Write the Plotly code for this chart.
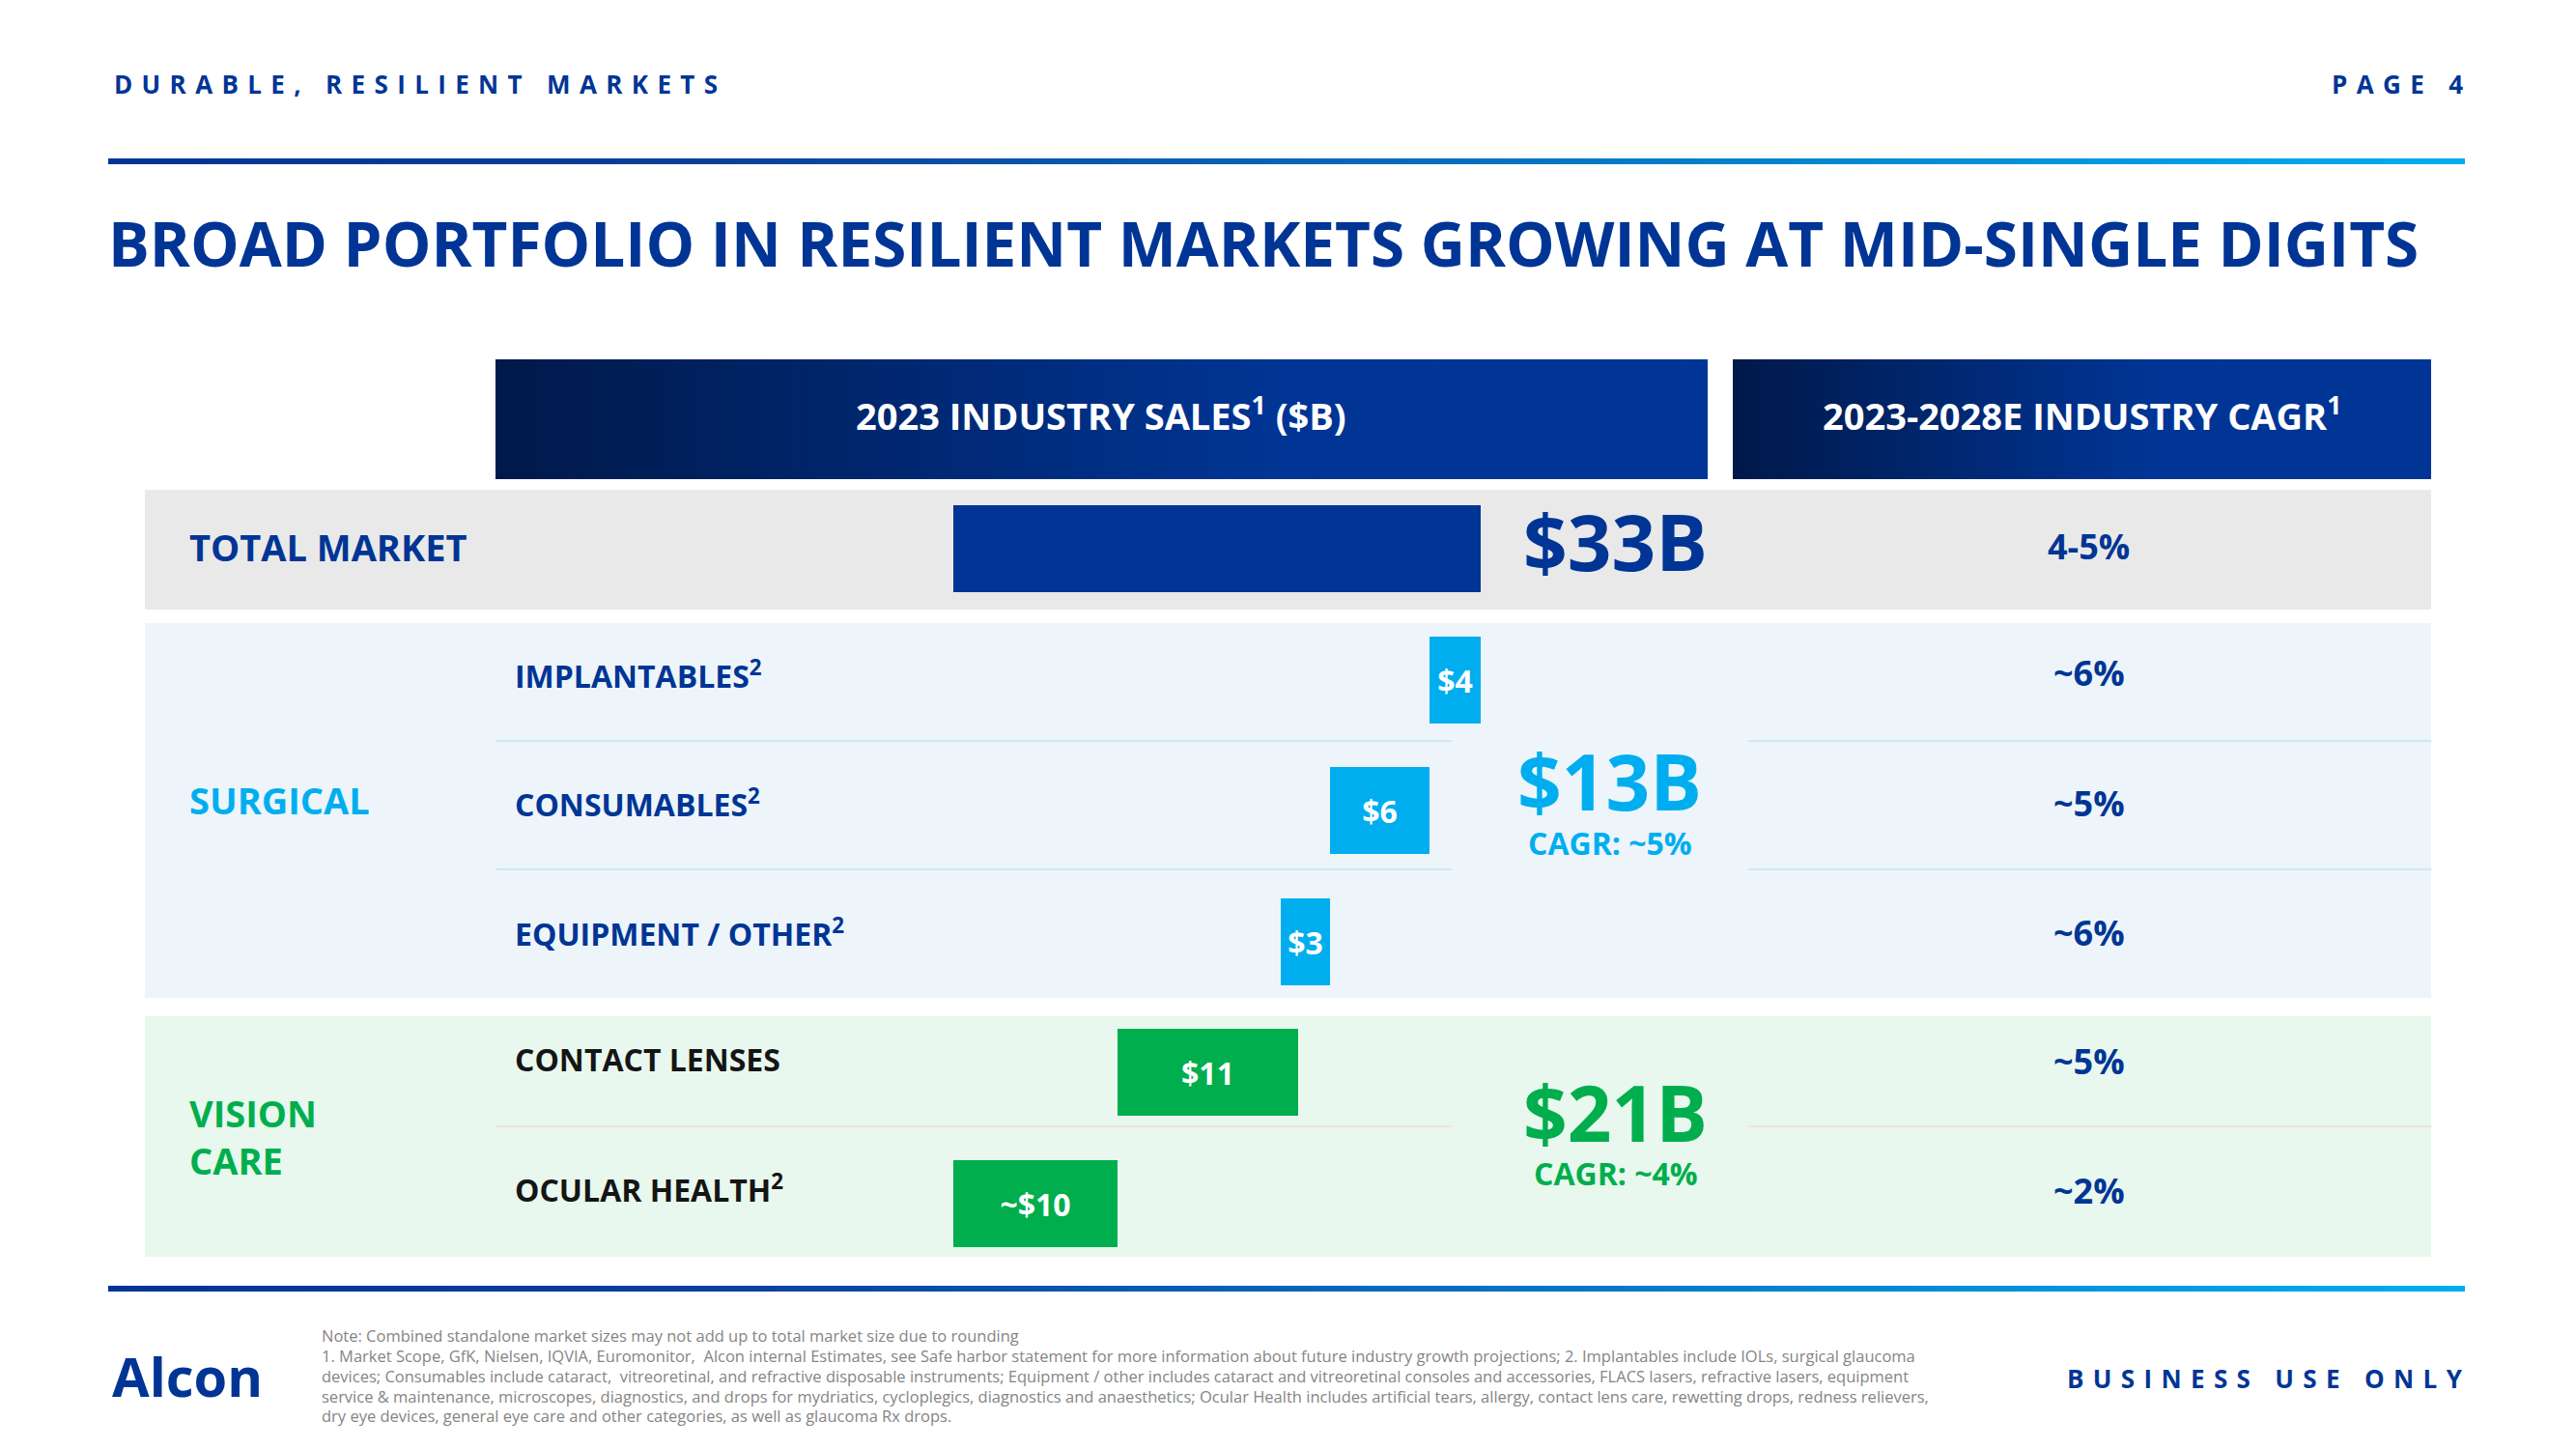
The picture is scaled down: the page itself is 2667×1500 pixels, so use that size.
import plotly.graph_objects as go

W, H = 2667, 1500

# ---------------- data ----------------
categories = ["TOTAL MARKET", "IMPLANTABLES", "CONSUMABLES", "EQUIPMENT / OTHER",
              "CONTACT LENSES", "OCULAR HEALTH"]
row_labels = ["", "IMPLANTABLES<sup>2</sup>", "CONSUMABLES<sup>2</sup>",
              "EQUIPMENT / OTHER<sup>2</sup>", "CONTACT LENSES", "OCULAR HEALTH<sup>2</sup>"]
sales_labels = ["", "$4", "$6", "$3", "$11", "~$10"]
bar_base = [0, 29.8, 23.6, 20.5, 10.3, 0]      # $B, left edge of each drawn bar
bar_len = [33, 3.2, 6.2, 3.1, 11.3, 10.3]       # $B, drawn length of each bar
cagr = ["4-5%", "~6%", "~5%", "~6%", "~5%", "~2%"]
segment_names = ["TOTAL MARKET", "SURGICAL", "VISION<br>CARE"]
segment_totals = ["$33B", "$13B", "$21B"]
segment_cagr = ["", "CAGR: ~5%", "CAGR: ~4%"]
footnotes = [
    "Note: Combined standalone market sizes may not add up to total market size due to rounding",
    "1. Market Scope, GfK, Nielsen, IQVIA, Euromonitor,  Alcon internal Estimates, see Safe harbor statement for more information about future industry growth projections; 2. Implantables include IOLs, surgical glaucoma",
    "devices; Consumables include cataract,  vitreoretinal, and refractive disposable instruments; Equipment / other includes cataract and vitreoretinal consoles and accessories, FLACS lasers, refractive lasers, equipment",
    "service &amp; maintenance, microscopes, diagnostics, and drops for mydriatics, cycloplegics, diagnostics and anaesthetics; Ocular Health includes artificial tears, allergy, contact lens care, rewetting drops, redness relievers,",
    "dry eye devices, general eye care and other categories, as well as glaucoma Rx drops.",
]

# ---------------- styles ----------------
BLUE = "#003595"
CYAN = "#00AEEF"
GREEN = "#00AE4D"
NAVY = "#00194A"
FONT = "Open Sans"
bar_colors = [BLUE, CYAN, CYAN, CYAN, GREEN, GREEN]
label_colors = [BLUE, BLUE, BLUE, BLUE, "#151515", "#151515"]
label_shift = [4, 6, 8, 10, 14, 15.5]     # px, text sits slightly high in each row
cagr_shift = [3, 7, 8, 9, 12, 13.5]
NB = "\u00a0"
HS = "\u200a"


def px(x):
    return x / W


def py(y):
    return 1 - y / H


def hex2rgb(h):
    h = h.lstrip("#")
    return tuple(int(h[i:i + 2], 16) for i in (0, 2, 4))


def interp(stops, t):
    for (t0, c0), (t1, c1) in zip(stops[:-1], stops[1:]):
        if t <= t1:
            f = 0 if t1 == t0 else (t - t0) / (t1 - t0)
            a, b = hex2rgb(c0), hex2rgb(c1)
            return "rgb(%d,%d,%d)" % tuple(round(a[i] + (b[i] - a[i]) * f) for i in range(3))
    return stops[-1][1]


shapes = []


def rect(x0, x1, y0, y1, color):
    shapes.append(dict(type="rect", xref="paper", yref="paper", x0=px(x0), x1=px(x1),
                       y0=py(y1), y1=py(y0), fillcolor=color, line=dict(width=0), layer="below"))


def grad_rect(x0, x1, y0, y1, stops, n):
    step = (x1 - x0) / n
    for i in range(n):
        a = x0 + step * i
        b = min(x1, a + step + 0.8)
        rect(a, b, y0, y1, interp(stops, (i + 0.5) / n))


def hline(x0, x1, y, color, w=2):
    shapes.append(dict(type="line", xref="paper", yref="paper", x0=px(x0), x1=px(x1),
                       y0=py(y), y1=py(y), line=dict(color=color, width=w), layer="below"))


def spaced(s):
    gap = NB + HS
    return (gap * 2 + NB).join(gap.join(list(w)) for w in s.split(" "))


# rules
grad_rect(112, 2552, 164, 170, [(0, BLUE), (0.25, "#0a3f9c"), (1, CYAN)], 120)
grad_rect(112, 2552, 1331, 1337, [(0, BLUE), (0.25, "#0a3f9c"), (1, CYAN)], 120)
# header boxes
grad_rect(513, 1768, 372, 496, [(0, NAVY), (0.65, BLUE), (1, BLUE)], 90)
grad_rect(1794, 2517, 372, 496, [(0, NAVY), (0.6, BLUE), (1, BLUE)], 60)
# row backgrounds
rect(150, 2517, 507, 631, "#E9E9E9")
rect(150, 2517, 645, 1033, "#EDF5FA")
rect(150, 2517, 1052, 1301, "#E8F8EE")
# separators
for yy in (767, 900):
    hline(513, 1503, yy, "#CDE8F7")
    hline(1810, 2517, yy, "#CDE8F7")
hline(513, 1503, 1166, "#EFE3D5")
hline(1810, 2517, 1166, "#EFE3D5")

# ---------------- axes geometry ----------------
K = 546 / 33.0            # px per $B
X0 = 987                  # px of $0
ROW0, ROWSTEP = 568, 135.5

fig = go.Figure()

fig.add_trace(go.Bar(
    y=categories, x=bar_len, base=bar_base, orientation="h",
    marker=dict(color=bar_colors, line=dict(width=0)), width=90 / ROWSTEP,
    text=sales_labels, textposition="inside", insidetextanchor="middle",
    textangle=0, constraintext="none",
    textfont=dict(family=FONT, size=32, color="white", weight=700),
    hoverinfo="skip", xaxis="x", yaxis="y"))

annotations = []


def ann(text, x, y, size, color, xanchor="center", yanchor="middle", weight=700,
        xref="paper", yref="paper", align="center", yshift=0):
    annotations.append(dict(text=text, x=x, y=y, xref=xref, yref=yref, showarrow=False,
                            xanchor=xanchor, yanchor=yanchor, align=align, yshift=yshift,
                            font=dict(family=FONT, size=size, color=color, weight=weight)))


# top texts
ann(spaced("DURABLE, RESILIENT MARKETS"), px(116), py(87), 26, BLUE, xanchor="left")
ann(spaced("PAGE 4"), px(2552), py(87), 26, BLUE, xanchor="right")
ann("BROAD PORTFOLIO IN RESILIENT MARKETS GROWING AT MID-SINGLE DIGITS",
    px(110), py(251), 63.8, BLUE, xanchor="left")
# column headers
ann("2023 INDUSTRY SALES<sup>1</sup> ($B)", px(1140), py(428), 38, "white")
ann("2023-2028E INDUSTRY CAGR<sup>1</sup>", px(2155), py(428), 38, "white")

# segment labels (left)
seg_rows = [0, 2, 4.5]
seg_colors = [BLUE, CYAN, GREEN]
seg_shift = [2, 11, 1]
for name, r, c, s in zip(segment_names, seg_rows, seg_colors, seg_shift):
    ann(name, px(194), r, 38, c, xanchor="left", yref="y", align="left", yshift=s)
# sub-row labels
for i, (lab, c) in enumerate(zip(row_labels, label_colors)):
    if lab:
        ann(lab, px(531), i, 32, c, xanchor="left", yref="y", align="left",
            yshift=label_shift[i])
# CAGR column (placed on its own axis)
for i, v in enumerate(cagr):
    ann(v, 0.51, i, 36, BLUE, xref="x2", yref="y", yshift=cagr_shift[i])

# segment totals
ann(segment_totals[0], px(1672), py(560), 80, BLUE)
ann(segment_totals[1], px(1666), py(808), 80, CYAN)
ann(segment_cagr[1], px(1667), py(873), 32, CYAN)
ann(segment_totals[2], px(1672), py(1150), 80, GREEN)
ann(segment_cagr[2], px(1673), py(1214), 32, GREEN)

# footer
ann("Alcon", px(194), py(1424), 56, BLUE)
ann(spaced("BUSINESS USE ONLY"), px(2552), py(1427), 26, BLUE, xanchor="right")
foot_y = [1382, 1403, 1424, 1445, 1465]
for line, yy in zip(footnotes, foot_y):
    ann(line, px(331), py(yy), 16.5, "#858585", xanchor="left", align="left", weight=400)

fig.update_layout(
    width=W, height=H, margin=dict(l=0, r=0, t=0, b=0),
    paper_bgcolor="white", plot_bgcolor="rgba(0,0,0,0)", showlegend=False,
    shapes=shapes, annotations=annotations,
    xaxis=dict(domain=[px(513), px(1768)], range=[(513 - X0) / K, (1768 - X0) / K],
               visible=False, fixedrange=True),
    xaxis2=dict(domain=[px(1794), px(2517)], range=[0, 1], anchor="y",
                visible=False, fixedrange=True),
    yaxis=dict(domain=[py(1301), py(507)], type="category", categoryarray=categories,
               range=[(1301 - ROW0) / ROWSTEP, (507 - ROW0) / ROWSTEP],
               visible=False, fixedrange=True),
    bargap=0,
)

fig.write_html("out.html")
